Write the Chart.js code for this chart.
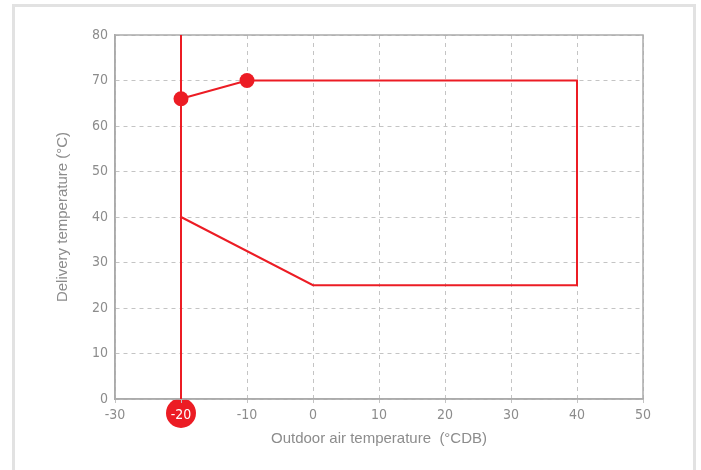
<!DOCTYPE html>
<html>
<head>
<meta charset="utf-8">
<script src="https://cdn.jsdelivr.net/npm/chart.js@4/dist/chart.umd.min.js"></script>
<style>
html,body{margin:0;padding:0;background:#fff;width:701px;height:470px;overflow:hidden;}
#frame{position:absolute;left:12px;top:4px;width:678px;height:500px;border:3px solid #e2e2e2;}
#wrap{position:absolute;left:0;top:0;width:701px;height:470px;}
</style>
</head>
<body>
<div id="frame"></div>
<div id="wrap"><canvas id="c" width="701" height="470"></canvas></div>
<script>
// Operating envelope (outdoor °CDB, delivery °C)
const envelopeX = [-20, -10, 40, 40, 0, -20];
const envelopeY = [66, 70, 70, 25, 25, 40];
const markerRadius = [7.5, 7.5, 0, 0, 0, 0];
// Minimum outdoor temperature limit line
const limitX = -20;
const limitY = [0, 80];
// Axis ticks
const xTicks = [-30, -20, -10, 0, 10, 20, 30, 40, 50];
const yTicks = [0, 10, 20, 30, 40, 50, 60, 70, 80];

const RED = '#ec1c24';
const GRAY = '#8c8c8c';
const AXIS = '#ababab';
const tickFont = {family: "'Liberation Sans Narrow','DejaVu Sans Condensed',Roboto,sans-serif", size: 14};
const titleFont = {family: "'Liberation Sans', Arial, sans-serif", size: 15};

const envelope = envelopeX.map((x, i) => ({x: x, y: envelopeY[i]}));
const limitLine = limitY.map(y => ({x: limitX, y: y}));

const framePlugin = {
  id: 'framePlugin',
  beforeDraw(chart) {
    const ctx = chart.ctx;
    const xs = chart.scales.x;
    const px = xs.getPixelForValue(limitX);
    const py = xs.top + 14;
    ctx.save();
    ctx.fillStyle = RED;
    ctx.beginPath();
    ctx.arc(px, py, 15, 0, Math.PI * 2);
    ctx.fill();
    ctx.strokeStyle = RED;
    ctx.lineWidth = 2;
    ctx.beginPath();
    ctx.moveTo(px, xs.top);
    ctx.lineTo(px, py);
    ctx.stroke();
    ctx.restore();
  },
  beforeDatasetsDraw(chart) {
    const a = chart.chartArea;
    const ctx = chart.ctx;
    ctx.save();
    ctx.strokeStyle = AXIS;
    ctx.lineWidth = 1.5;
    ctx.strokeRect(a.left, a.top, a.right - a.left, a.bottom - a.top);
    ctx.restore();
  }
};

new Chart(document.getElementById('c'), {
  type: 'scatter',
  data: {
    datasets: [
      {
        data: limitLine,
        showLine: true,
        borderColor: RED,
        borderWidth: 2,
        pointRadius: 0,
        clip: false
      },
      {
        data: envelope,
        showLine: true,
        borderColor: RED,
        backgroundColor: RED,
        borderWidth: 2,
        pointRadius: markerRadius,
        pointHoverRadius: markerRadius,
        pointBorderWidth: 0,
        tension: 0
      }
    ]
  },
  options: {
    responsive: false,
    animation: false,
    events: [],
    layout: {padding: {left: 54, right: 58, top: 35, bottom: 22}},
    plugins: {legend: {display: false}, tooltip: {enabled: false}},
    scales: {
      x: {
        type: 'linear',
        min: -30, max: 50,
        afterBuildTicks(s) { s.ticks = xTicks.map(v => ({value: v})); },
        afterFit(s) { s.height = 49; },
        ticks: {
          font: tickFont,
          color: c => c.tick && c.tick.value === limitX ? '#ffffff' : GRAY,
          padding: 4
        },
        grid: {color: '#c4c4c4', tickLength: 4, tickBorderDash: [], lineWidth: 1},
        border: {display: true, color: AXIS, width: 1.5, dash: [4, 4]},
        title: {display: true, text: 'Outdoor air temperature  (°CDB)', color: GRAY,
          font: titleFont, padding: {top: 0, bottom: 0}}
      },
      y: {
        type: 'linear',
        min: 0, max: 80,
        afterBuildTicks(s) { s.ticks = yTicks.map(v => ({value: v})); },
        afterFit(s) { s.width = 61; },
        ticks: {font: tickFont, color: GRAY, padding: 7},
        grid: {color: '#c4c4c4', tickLength: 0, lineWidth: 1},
        border: {display: true, color: AXIS, width: 1.5, dash: [4, 4]},
        title: {display: true, text: 'Delivery temperature (°C)', color: GRAY,
          font: titleFont, padding: {top: 0, bottom: 0}}
      }
    }
  },
  plugins: [framePlugin]
});
</script>
</body>
</html>
